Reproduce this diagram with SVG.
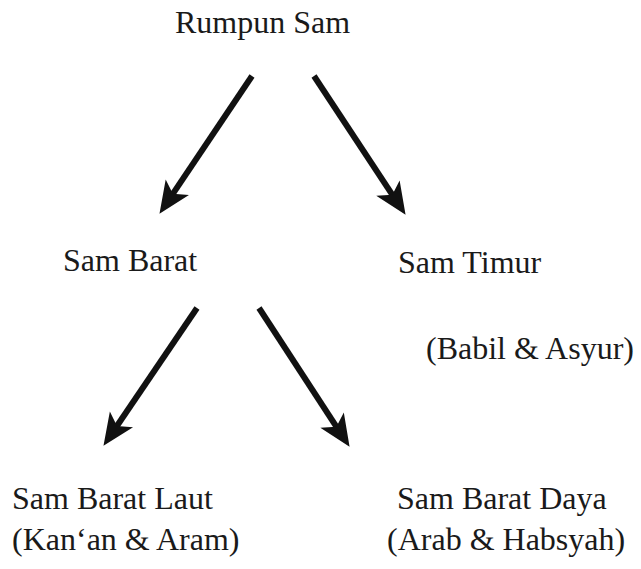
<svg xmlns="http://www.w3.org/2000/svg" width="641" height="569" viewBox="0 0 641 569">
<style>
text{font-family:"Liberation Serif","Times New Roman",serif;font-size:32px;fill:#1a1a1a}
.c{stroke:#111;stroke-width:6;fill:none;marker-end:url(#ah)}
</style>
<defs>
<marker id="ah" markerUnits="userSpaceOnUse" orient="auto" refX="0" refY="0" markerWidth="60" markerHeight="60" overflow="visible">
<path d="M23,0 L-9,-14 L-1,0 L-9,14 Z" fill="#111"/>
</marker>
</defs>
<rect width="641" height="569" fill="#fff"/>
<g id="connectors">
<line class="c" x1="252" y1="76" x2="172.3" y2="194.7"/>
<line class="c" x1="314" y1="76" x2="392.9" y2="195.6"/>
<line class="c" x1="197" y1="308" x2="116.4" y2="426.8"/>
<line class="c" x1="259" y1="308" x2="337" y2="427.6"/>
</g>
<g id="rumpun-sam"><text x="175" y="33">Rumpun Sam</text></g>
<g id="sam-barat"><text x="63" y="271">Sam Barat</text></g>
<g id="sam-timur"><text x="398" y="273">Sam Timur</text><text x="426" y="359">(Babil &amp; Asyur)</text></g>
<g id="sam-barat-laut"><text x="12" y="509">Sam Barat Laut</text><text x="12" y="550">(Kan‘an &amp; Aram)</text></g>
<g id="sam-barat-daya"><text x="397" y="509">Sam Barat Daya</text><text x="387" y="550">(Arab &amp; Habsyah)</text></g>
</svg>
